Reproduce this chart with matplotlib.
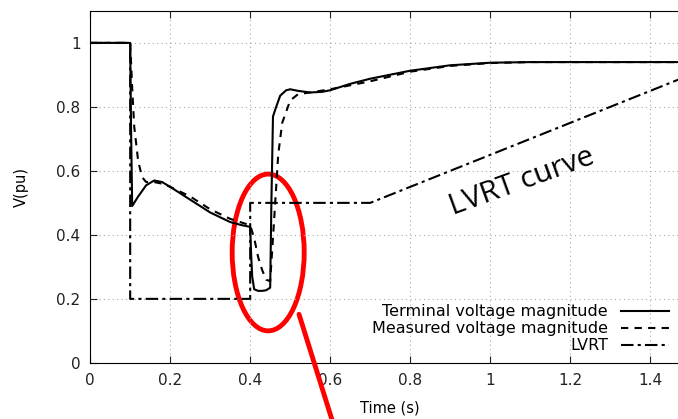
import matplotlib.pyplot as plt
from matplotlib.patches import Ellipse

# terminal voltage (solid)
t_term = [0, 0.1, 0.102, 0.105, 0.12, 0.14, 0.16, 0.18, 0.2, 0.25, 0.3, 0.35,
          0.38, 0.4, 0.402, 0.405, 0.41, 0.42, 0.43, 0.44, 0.45, 0.453, 0.457,
          0.465, 0.475, 0.49, 0.5, 0.52, 0.55, 0.58, 0.6, 0.65, 0.7, 0.8, 0.9,
          1.0, 1.1, 1.2, 1.5]
v_term = [1.0, 1.0, 0.75, 0.49, 0.52, 0.555, 0.57, 0.565, 0.55, 0.51, 0.47,
          0.44, 0.43, 0.425, 0.35, 0.27, 0.23, 0.225, 0.225, 0.227, 0.235,
          0.5, 0.77, 0.8, 0.835, 0.852, 0.855, 0.85, 0.845, 0.847, 0.852,
          0.872, 0.888, 0.913, 0.93, 0.938, 0.94, 0.94, 0.94]

# measured voltage (dashed)
t_meas = [0, 0.1, 0.105, 0.11, 0.12, 0.13, 0.14, 0.16, 0.18, 0.2, 0.25, 0.3,
          0.35, 0.4, 0.41, 0.42, 0.43, 0.44, 0.45, 0.46, 0.47, 0.48, 0.5,
          0.52, 0.55, 0.6, 0.7, 0.8, 0.9, 1.0, 1.1, 1.5]
v_meas = [1.0, 1.0, 0.86, 0.74, 0.63, 0.58, 0.565, 0.565, 0.56, 0.55, 0.52,
          0.48, 0.45, 0.43, 0.39, 0.33, 0.29, 0.26, 0.255, 0.45, 0.65, 0.75,
          0.82, 0.84, 0.845, 0.855, 0.88, 0.91, 0.928, 0.937, 0.94, 0.94]

# LVRT requirement (dash-dot)
t_lvrt = [0, 0.1, 0.1, 0.4, 0.4, 0.7, 1.5]
v_lvrt = [1.0, 1.0, 0.2, 0.2, 0.5, 0.5, 0.9]

fig = plt.figure(figsize=(6.78, 4.19), dpi=100, facecolor='white')
ax = fig.add_axes([0.133, 0.134, 1.018 - 0.133, 0.974 - 0.134])

ax.plot(t_term, v_term, color='black', lw=1.5, label='Terminal voltage magnitude')
ax.plot(t_meas, v_meas, color='black', lw=1.5, ls=(0, (3.5, 3)),
        label='Measured voltage magnitude')
ax.plot(t_lvrt, v_lvrt, color='black', lw=1.5, ls=(0, (6, 2, 1.5, 2)),
        label='LVRT')

ax.set_xlim(0, 1.5)
ax.set_ylim(0, 1.1)
ax.set_xticks([0, 0.2, 0.4, 0.6, 0.8, 1, 1.2, 1.4])
ax.set_xticklabels(['0', '0.2', '0.4', '0.6', '0.8', '1', '1.2', '1.4'])
ax.set_yticks([0, 0.2, 0.4, 0.6, 0.8, 1])
ax.set_yticklabels(['0', '0.2', '0.4', '0.6', '0.8', '1'])
ax.tick_params(direction='in', top=True, right=True, labelsize=11,
               length=5, pad=7, colors='#222222')
ax.grid(True, ls=(0, (1, 3)), color='#aaaaaa', lw=0.8)
ax.set_xlabel('Time (s)', fontsize=10.5, labelpad=9)
ax.set_ylabel('V(pu)', fontsize=10.5, labelpad=20)

ax.legend(loc='lower right', bbox_to_anchor=(0.98, 0.0), frameon=False,
          markerfirst=False, fontsize=11.5, handlelength=3.0,
          handletextpad=0.8, labelspacing=0.12, borderaxespad=0.2)

# annotation
ell = Ellipse((0.445, 0.345), 0.18, 0.49, fill=False, ec='red', lw=3.5,
              clip_on=False)
ax.add_patch(ell)
ax.annotate('', xy=(0.61, -0.2), xytext=(0.52, 0.16),
            xycoords='data', annotation_clip=False,
            arrowprops=dict(arrowstyle='-', color='red', lw=3.5))
ax.text(1.08, 0.565, 'LVRT curve', fontsize=21.5, rotation=20,
        ha='center', va='center', family='Open Sans')

fig.savefig('out.png', dpi=100)
